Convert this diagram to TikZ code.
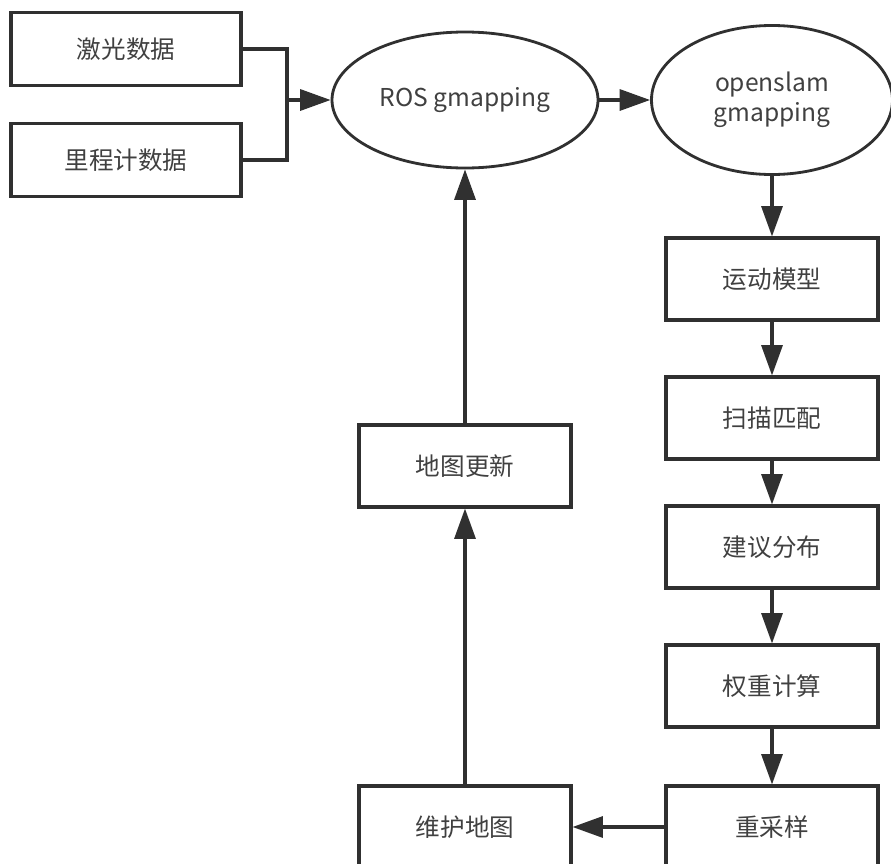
\documentclass[tikz,border=0pt]{standalone}
\usepackage{fontspec}
\setmainfont{Noto Sans CJK SC}
\usetikzlibrary{positioning,shapes.geometric,arrows.meta}

\definecolor{linegray}{HTML}{303030}
\definecolor{textgray}{HTML}{404040}

\begin{document}
\begin{tikzpicture}[x=0.03cm, y=-0.03cm, >={Triangle[length=26pt,width=18pt]},
  every node/.style={font=\fontsize{21}{26}\selectfont, text=textgray},
  block/.style={draw=linegray, line width=2.6pt, inner sep=0pt,
    minimum width=6.36cm, minimum height=2.46cm},
  inblock/.style={block, minimum width=6.9cm, minimum height=2.2cm},
  oval/.style={ellipse, draw=linegray, line width=2.4pt, inner sep=0pt, align=center},
  link/.style={draw=linegray, line width=2.6pt}]

\useasboundingbox (0,0) rectangle (891,864);

\node [inblock] (in-1) at (126,49) {激光数据};
\node [inblock] (in-2) at (126,160) {里程计数据};

\node [oval, minimum width=7.98cm, minimum height=4.08cm] (ros) at (465,100) {ROS gmapping};
\node [oval, minimum width=7.23cm, minimum height=4.47cm] (slam) at (772,100) {openslam\\gmapping};

\foreach \l/\yy [count=\i] in {运动模型/279, 扫描匹配/418, 建议分布/547, 权重计算/686, 重采样/827}
  \node [block] (step-\i) at (772,\yy) {\l};

\node [block] (update) at (465,466) {地图更新};
\node [block] (keep) at (465,827) {维护地图};

\coordinate (join) at (287,100);
\draw [link] (in-1.east) -| (join);
\draw [link] (in-2.east) -| (join);
\draw [link, ->] (join) -- (ros.west);

\draw [link, ->] (ros) -- (slam);
\draw [link, ->] (slam) -- (step-1);

\foreach \i [count=\j from 2] in {1,...,4}
  \draw [link, ->] (step-\i) -- (step-\j);

\draw [link, ->] (step-5) -- (keep);
\draw [link, ->] (keep) -- (update);
\draw [link, ->] (update) -- (ros);

\end{tikzpicture}
\end{document}
